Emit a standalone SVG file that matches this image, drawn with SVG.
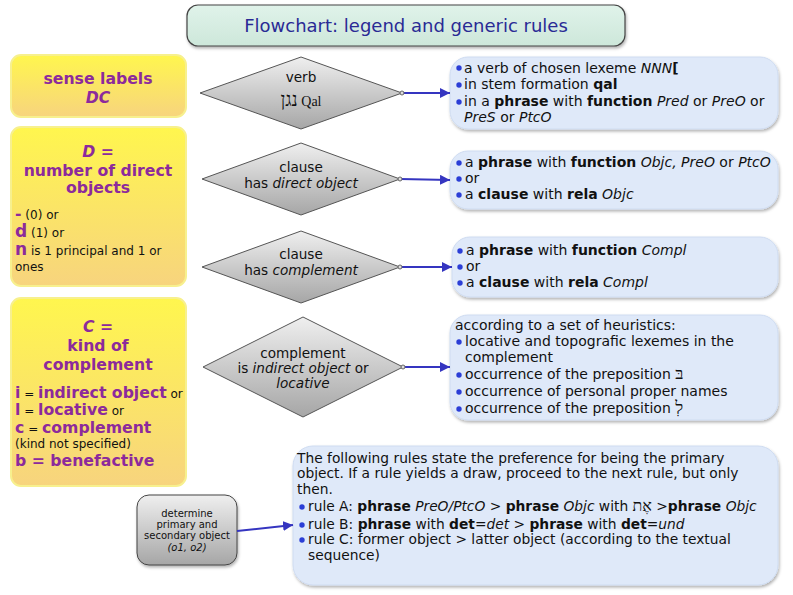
<svg xmlns="http://www.w3.org/2000/svg" width="793" height="595" viewBox="0 0 793 595">
<defs>
<linearGradient id="gY" x1="0" y1="0" x2="0" y2="1"><stop offset="0" stop-color="#fff64e"/><stop offset="1" stop-color="#f7d47e"/></linearGradient>
<linearGradient id="gG" x1="0" y1="0" x2="0" y2="1"><stop offset="0" stop-color="#efefef"/><stop offset="1" stop-color="#a6a6a6"/></linearGradient>
<linearGradient id="gT" x1="0" y1="0" x2="0" y2="1"><stop offset="0" stop-color="#e0f3ea"/><stop offset="1" stop-color="#cde7da"/></linearGradient>
<filter id="sh" x="-10%" y="-10%" width="120%" height="130%"><feDropShadow dx="1" dy="2" stdDeviation="1.5" flood-color="#000" flood-opacity="0.3"/></filter>
<marker id="ah" viewBox="0 0 10 10" refX="10" refY="5" markerWidth="10" markerHeight="10" markerUnits="userSpaceOnUse" orient="auto"><path d="M0,0 L10,5 L0,10 z" fill="#3535c0"/></marker>
</defs>
<style>
text{font-family:"DejaVu Sans",Verdana,sans-serif;fill:#111}
.t13{font-size:14px}
.t5{font-size:13.8px}
.td{font-size:13.6px}
.t12{font-size:12px}
.p{fill:#8c2a9c;font-weight:bold;font-size:15.7px}
.b{font-weight:bold}
.i{font-style:italic}
.yb{fill:url(#gY);stroke:#f7f08e;stroke-width:2}
.dm{fill:url(#gG);stroke:#555;stroke-width:1}
.bb{fill:#dfe9f9;stroke:#cfdcf1;stroke-width:1}
.bl{fill:#2b3ed6}
.cn{stroke:#3535c0;stroke-width:2;fill:none}
.dot{fill:#ddd;stroke:#666;stroke-width:1}
.hs{font-family:"Liberation Serif","DejaVu Serif",serif}
.dt{font-size:10px}
</style>

<g id="title">
<rect x="187" y="5" width="438" height="41" rx="11" fill="url(#gT)" stroke="#444" stroke-width="1.2" filter="url(#sh)"/>
<text x="406" y="32" text-anchor="middle" style="font-size:18px;fill:#2a2a95">Flowchart: legend and generic rules</text>
</g>

<g id="legend-sense">
<rect class="yb" x="11" y="55" width="175" height="62" rx="10"/>
<text class="p" x="98" y="84" text-anchor="middle">sense labels</text>
<text class="p i" x="98" y="103" text-anchor="middle">DC</text>
</g>

<g id="legend-D">
<rect class="yb" x="11" y="127" width="175" height="159" rx="10"/>
<text class="p" x="98" y="157" text-anchor="middle"><tspan class="i">D</tspan> =</text>
<text class="p" x="98" y="176" text-anchor="middle">number of direct</text>
<text class="p" x="98" y="193" text-anchor="middle">objects</text>
<text x="15" y="219" class="t12"><tspan class="p">-</tspan> (0) or</text>
<text x="15" y="237" class="t12"><tspan class="p" style="font-size:17px">d</tspan> (1) or</text>
<text x="15" y="255" class="t12"><tspan class="p" style="font-size:17px">n</tspan> is 1 principal and 1 or</text>
<text x="15" y="271" class="t12">ones</text>
</g>

<g id="legend-C">
<rect class="yb" x="11" y="298" width="175" height="188" rx="10"/>
<text class="p" x="98" y="332" text-anchor="middle"><tspan class="i">C</tspan> =</text>
<text class="p" x="98" y="351" text-anchor="middle">kind of</text>
<text class="p" x="98" y="370" text-anchor="middle">complement</text>
<text x="15" y="398" class="t12"><tspan class="p">i</tspan> = <tspan class="p">indirect object</tspan> or</text>
<text x="15" y="415" class="t12"><tspan class="p">l</tspan> = <tspan class="p">locative</tspan> or</text>
<text x="15" y="433" class="t12"><tspan class="p">c</tspan> = <tspan class="p">complement</tspan></text>
<text x="15" y="448" class="t12">(kind not specified)</text>
<text x="15" y="466" class="p">b = benefactive</text>
</g>

<g id="d-verb">
<polygon class="dm" points="200,93 301,57 402,93 301,129"/>
<text class="td" x="301" y="82" text-anchor="middle">verb</text>
<text class="hs" x="301" y="106" text-anchor="middle" style="font-size:14px"><tspan style="font-size:19px">נגן</tspan> Qal</text>
</g>

<g id="d-object">
<polygon class="dm" points="202,179 301,143 400,179 301,215"/>
<text class="td" x="301" y="172" text-anchor="middle">clause</text>
<text class="td" x="301" y="188" text-anchor="middle">has <tspan class="i">direct object</tspan></text>
</g>

<g id="d-complement">
<polygon class="dm" points="202,267 301,231 400,267 301,303"/>
<text class="td" x="301" y="259" text-anchor="middle">clause</text>
<text class="td" x="301" y="275" text-anchor="middle">has <tspan class="i">complement</tspan></text>
</g>

<g id="d-kind">
<polygon class="dm" points="203,367 303,317 403,367 303,417"/>
<text class="td" x="303" y="358" text-anchor="middle">complement</text>
<text class="td" x="303" y="373" text-anchor="middle">is <tspan class="i">indirect object</tspan> or</text>
<text class="td i" x="303" y="388" text-anchor="middle">locative</text>
</g>

<g id="b-verb">
<rect class="bb" x="450" y="57" width="328" height="72" rx="18" filter="url(#sh)"/>
<circle class="bl" cx="459" cy="68" r="2.7"/><circle class="bl" cx="459" cy="85" r="2.7"/><circle class="bl" cx="459" cy="102" r="2.7"/>
<text class="t13" x="464" y="73">a verb  of chosen lexeme <tspan class="i">NNN</tspan><tspan class="b">[</tspan></text>
<text class="t13" x="464" y="89">in stem formation <tspan class="b">qal</tspan></text>
<text class="t13" x="464" y="106">in a <tspan class="b">phrase</tspan> with <tspan class="b">function</tspan> <tspan class="i">Pred</tspan> or <tspan class="i">PreO</tspan> or</text>
<text class="t13" x="464" y="122"><tspan class="i">PreS</tspan> or <tspan class="i">PtcO</tspan></text>
</g>

<g id="b-object">
<rect class="bb" x="450" y="151" width="328" height="58" rx="18" filter="url(#sh)"/>
<circle class="bl" cx="459" cy="163" r="2.7"/><circle class="bl" cx="459" cy="179" r="2.7"/><circle class="bl" cx="459" cy="195" r="2.7"/>
<text class="t13" x="465" y="167">a <tspan class="b">phrase</tspan> with <tspan class="b">function</tspan> <tspan class="i">Objc, PreO</tspan> or <tspan class="i">PtcO</tspan></text>
<text class="t13" x="465" y="183">or</text>
<text class="t13" x="465" y="199">a <tspan class="b">clause</tspan> with <tspan class="b">rela</tspan> <tspan class="i">Objc</tspan></text>
</g>

<g id="b-complement">
<rect class="bb" x="452" y="237" width="326" height="60" rx="18" filter="url(#sh)"/>
<circle class="bl" cx="460" cy="251" r="2.7"/><circle class="bl" cx="460" cy="267" r="2.7"/><circle class="bl" cx="460" cy="283" r="2.7"/>
<text class="t13" x="466" y="255">a <tspan class="b">phrase</tspan> with <tspan class="b">function</tspan> <tspan class="i">Compl</tspan></text>
<text class="t13" x="466" y="271">or</text>
<text class="t13" x="466" y="287">a <tspan class="b">clause</tspan> with <tspan class="b">rela</tspan> <tspan class="i">Compl</tspan></text>
</g>

<g id="b-kind">
<rect class="bb" x="450" y="315" width="328" height="105" rx="18" filter="url(#sh)"/>
<text class="t13" x="455" y="330">according to a set of heuristics:</text>
<circle class="bl" cx="459" cy="342" r="2.7"/><circle class="bl" cx="459" cy="375" r="2.7"/><circle class="bl" cx="459" cy="392" r="2.7"/><circle class="bl" cx="459" cy="409" r="2.7"/>
<text class="t13" x="465" y="346">locative and topografic lexemes in the</text>
<text class="t13" x="465" y="362">complement</text>
<text class="t13" x="465" y="379">occurrence of the preposition <tspan class="hs" style="font-size:17px">בּ</tspan></text>
<text class="t13" x="465" y="396">occurrence of personal proper names</text>
<text class="t13" x="465" y="413">occurrence of the preposition <tspan class="hs" style="font-size:17px">לְ</tspan></text>
</g>

<g id="determine">
<rect x="137" y="495" width="100" height="70" rx="12" fill="url(#gG)" stroke="#444" stroke-width="1" filter="url(#sh)"/>
<text class="dt" x="187" y="517" text-anchor="middle">determine</text>
<text class="dt" x="187" y="528" text-anchor="middle">primary and</text>
<text class="dt" x="187" y="539" text-anchor="middle">secondary object</text>
<text class="dt i" x="187" y="551" text-anchor="middle">(o1, o2)</text>
</g>

<g id="b-rules">
<rect class="bb" x="293" y="446" width="485" height="139" rx="20" filter="url(#sh)"/>
<text class="t5" x="297" y="463">The following rules state the preference for being the primary</text>
<text class="t5" x="297" y="478">object. If a rule yields a draw, proceed to the next rule, but only</text>
<text class="t5" x="297" y="494">then.</text>
<circle class="bl" cx="302" cy="507" r="2.7"/><circle class="bl" cx="302" cy="525" r="2.7"/><circle class="bl" cx="302" cy="540" r="2.7"/>
<text class="t5" x="308" y="511">rule A: <tspan class="b">phrase</tspan> <tspan class="i">PreO/PtcO</tspan> &gt; <tspan class="b">phrase</tspan> <tspan class="i">Objc</tspan> with <tspan class="hs" style="font-size:16px">אֶת</tspan> &gt;<tspan class="b">phrase</tspan> <tspan class="i">Objc</tspan></text>
<text class="t5" x="308" y="529">rule B: <tspan class="b">phrase</tspan> with <tspan class="b">det</tspan>=<tspan class="i">det</tspan> &gt; <tspan class="b">phrase</tspan> with <tspan class="b">det</tspan>=<tspan class="i">und</tspan></text>
<text class="t5" x="308" y="544">rule C: former object &gt; latter object (according to the textual</text>
<text class="t5" x="308" y="560">sequence)</text>
</g>

<g id="connectors">
<line class="cn" x1="402" y1="93" x2="450" y2="93" marker-end="url(#ah)"/>
<line class="cn" x1="400" y1="179" x2="450" y2="180" marker-end="url(#ah)"/>
<line class="cn" x1="400" y1="267" x2="452" y2="267" marker-end="url(#ah)"/>
<line class="cn" x1="403" y1="367" x2="450" y2="367" marker-end="url(#ah)"/>
<line class="cn" x1="237" y1="531" x2="293" y2="525" marker-end="url(#ah)"/>
<circle class="dot" cx="402" cy="93" r="2"/>
<circle class="dot" cx="400" cy="179" r="2"/>
<circle class="dot" cx="400" cy="267" r="2"/>
<circle class="dot" cx="403" cy="367" r="2"/>
</g>
</svg>
